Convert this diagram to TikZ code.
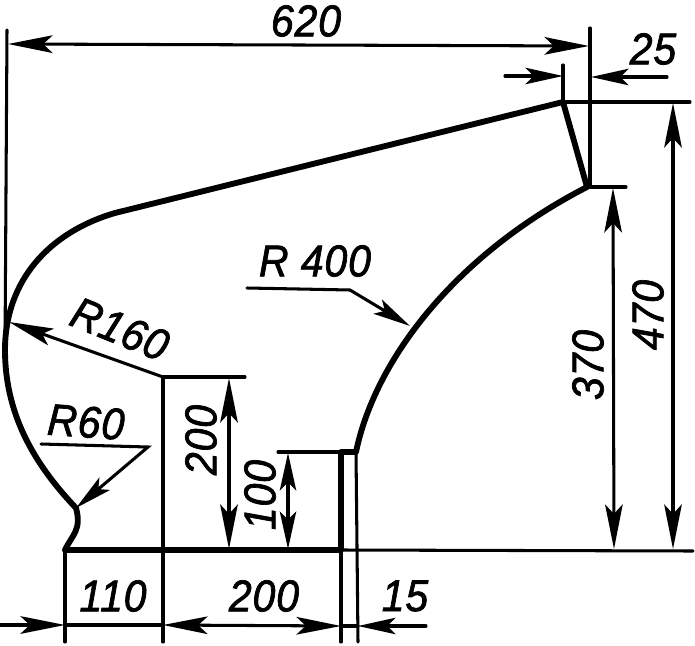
\documentclass[tikz,border=0pt]{standalone}
\usepackage{fontspec}
\setmainfont{Liberation Sans}
\newfontfamily\dimfont[FakeBold=1.6,FakeStretch=0.92,LetterSpace=2]{Liberation Sans Italic}
\usepackage{xcolor}
\usetikzlibrary{arrows.meta,positioning}
\tikzset{
  contour/.style={line width=5pt,line join=round,line cap=round},
  extline/.style={line width=2.6pt,line cap=round},
  dimline/.style={line width=2.6pt,line cap=round},
  dimlabel/.style={inner sep=0pt,font=\dimfont\fontsize{38}{38}\selectfont},
  bigtip/.tip={Stealth[length=38pt,width=15pt,inset=8pt]},
  smalltip/.tip={Stealth[length=32pt,width=14pt,inset=7pt]},
}
\begin{document}
\begin{tikzpicture}[x=0.03cm,y=-0.03cm]
  \useasboundingbox (0,0) rectangle (695,646);
  \fill[white] (0,0) rectangle (695,646);
  % Profile points
  \coordinate (foot) at (65,550);
  \coordinate (neck) at (76,508);
  \coordinate (left) at (5,350);
  \coordinate (tan) at (115,213);
  \coordinate (peak) at (563,102);
  \coordinate (tail) at (587,187);
  \coordinate (step) at (356,452);
  \coordinate (inner) at (341,452);
  \coordinate (base) at (341,550);
  \coordinate (center) at (163,377);
  % Profile
  \draw[contour] (foot) .. controls (72,535) and (82,530) .. (neck)
    .. controls (40,470) and (5,420) .. (left)
    .. controls (5,280) and (50,232) .. (tan)
    -- (peak) -- (tail)
    .. controls (455,255) and (375,360) .. (step) -- (inner) -- (base) -- (foot);
  % Extension lines
  \draw[extline] (7,30) -- (left);
  \draw[extline] (590,28) -- (590,187);
  \draw[extline] (563,65) -- (peak) -- (690,102);
  \draw[extline] (tail) -- (626,187);
  \draw[extline] (base) -- (693,551);
  \draw[extline] (center) -- (245,377);
  \draw[extline] (center) -- (163,642);
  \draw[extline] (inner) -- (278,452);
  \draw[extline] (foot) -- (65,642);
  \draw[extline] (base) -- (341,642);
  \draw[extline] (step) -- (358,642);
  % Top dimensions
  \draw[dimline,{bigtip}-{bigtip}] (8,44) -- (589,46);
  \node[dimlabel] (dimA) at (306,21) {620};
  \draw[dimline,-{smalltip}] (505,76) -- (563,76);
  \draw[dimline,-{smalltip}] (667,77) -- (591,77);
  \node[dimlabel] (dimB) at (653,49) {25};
  % Right dimensions
  \draw[dimline,{bigtip}-{bigtip}] (673,103) -- (673,549);
  \node[dimlabel,rotate=90] (dimC) at (648,315) {470};
  \draw[dimline,{bigtip}-{bigtip}] (613,188) -- (614,549);
  \node[dimlabel,rotate=90] (dimD) at (588,365) {370};
  % Inner dimensions
  \draw[dimline,{bigtip}-{bigtip}] (229,378) -- (229,549);
  \node[dimlabel,rotate=90] (dimE) at (201,440) {200};
  \draw[dimline,{smalltip}-{smalltip}] (288,453) -- (288,549);
  \node[dimlabel,rotate=90] (dimF) at (260,495) {100};
  % Bottom dimensions
  \draw[dimline,-{bigtip}] (0,625) -- (65,625);
  \draw[dimline,{bigtip}-{bigtip}] (163,625) -- (341,626);
  \draw[dimline] (65,625) -- (163,625);
  \draw[dimline,-{smalltip}] (426,626) -- (358,626);
  \draw[dimline] (341,626) -- (358,626);
  \node[dimlabel] (dimG) at (113,596) {110};
  \node[dimlabel] (dimH) at (264,596) {200};
  \node[dimlabel] (dimI) at (405,596) {15};
  % Radius leaders
  \draw[dimline,-{smalltip}] (247,288) -- (350,290) -- (410,326);
  \node[dimlabel] (dimJ) at (315,261) {R 400};
  \draw[dimline,-{bigtip}] (center) -- (9,322);
  \node[dimlabel,rotate=-22] (dimK) at (120,329) {R160};
  \draw[dimline,-{smalltip}] (41,444) -- (148,447) -- (neck);
  \node[dimlabel,rotate=-4] (dimL) at (86,422) {R60};
\end{tikzpicture}
\end{document}
